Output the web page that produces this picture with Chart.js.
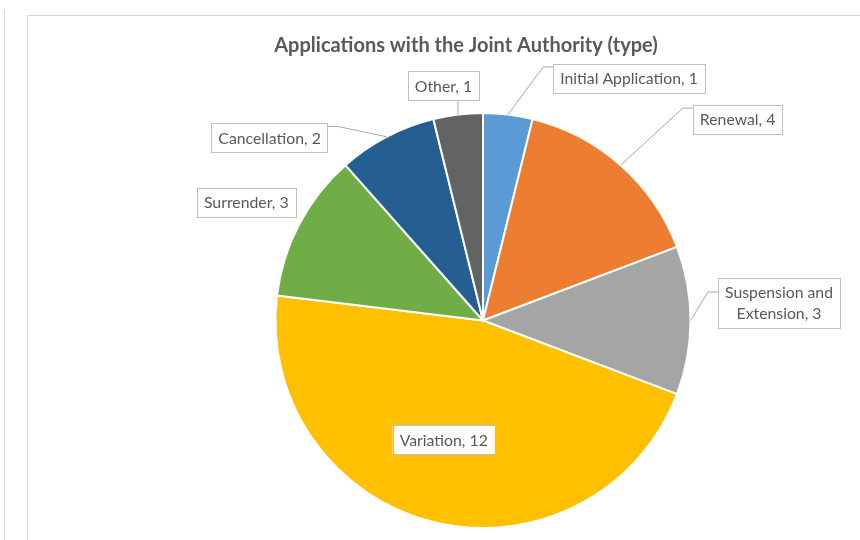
<!DOCTYPE html>
<html>
<head>
<meta charset="utf-8">
<script src="https://cdn.jsdelivr.net/npm/chart.js@4.4.1/dist/chart.umd.min.js"></script>
<style>
  html, body { margin: 0; padding: 0; background: #fff; overflow: hidden; }
  .sideLine { position: absolute; left: 4px; top: 10px; height: 600px; border-left: 1px solid #d9d9d9; }
  .frame { position: absolute; left: 27px; top: 15px; width: 1000px; height: 1000px; border: 1px solid #d9d9d9; }
  #myChart { position: absolute; left: 0; top: 0; }
</style>
</head>
<body>
<div class="sideLine"></div>
<div class="frame"></div>
<canvas id="myChart" width="860" height="540"></canvas>
<script>
// data
const categories = ['Initial Application', 'Renewal', 'Suspension and Extension', 'Variation', 'Surrender', 'Cancellation', 'Other'];
const counts = [1, 4, 3, 12, 3, 2, 1];
const chartTitle = 'Applications with the Joint Authority (type)';

// label callout placement, relative to the middle of each slice's outer edge
const labelPlacement = [
    { dx: 121, dy: -36.5, stub: 0.12 },
    { dx: 117, dy: -46, stub: 0.12 },
    { dx: 88.5, dy: -18, stub: 0.29, maxW: 130 },
    { dx: 10.4, dy: -82.5, leader: false },
    { dx: -53, dy: -22, leader: false },
    { dx: -117, dy: 0.7, stub: 0.12 },
    { dx: -14.5, dy: -29, vertical: true }
];

const labelFont = '15.8px Lato';
const textColor = '#595959';

function wrapText(ctx, text, maxW) {
    if (!maxW || ctx.measureText(text).width <= maxW) return [text];
    const words = text.split(' ');
    const lines = [];
    let cur = '';
    words.forEach(w => {
        const t = cur ? cur + ' ' + w : w;
        if (cur && ctx.measureText(t).width > maxW) {
            lines.push(cur);
            cur = w;
        } else {
            cur = t;
        }
    });
    if (cur) lines.push(cur);
    return lines;
}

const titlePlugin = {
    id: 'excelTitle',
    afterDraw(chart) {
        const { ctx } = chart;
        ctx.save();
        ctx.font = 'bold 20px Lato';
        ctx.fillStyle = textColor;
        ctx.textAlign = 'center';
        ctx.textBaseline = 'middle';
        ctx.fillText(chartTitle, 466, 46);
        ctx.restore();
    }
};

const calloutPlugin = {
    id: 'callouts',
    afterDatasetsDraw(chart) {
        const { ctx } = chart;
        const meta = chart.getDatasetMeta(0);
        ctx.save();
        ctx.font = labelFont;
        meta.data.forEach((arc, i) => {
            const p = labelPlacement[i];
            const { x, y, startAngle, endAngle, outerRadius } = arc.getProps(['x', 'y', 'startAngle', 'endAngle', 'outerRadius'], true);
            const mid = (startAngle + endAngle) / 2;
            const ax = x + Math.cos(mid) * outerRadius;
            const ay = y + Math.sin(mid) * outerRadius;
            const cx = ax + p.dx;
            const cy = ay + p.dy;

            const text = chart.data.labels[i] + ', ' + chart.data.datasets[0].data[i];
            const lines = wrapText(ctx, text, p.maxW);
            const lineH = 21;
            const w = Math.max(...lines.map(l => ctx.measureText(l).width)) + 14;
            const h = lines.length * lineH + 8;
            const left = cx - w / 2, top = cy - h / 2;

            // leader line
            if (p.leader !== false) {
                ctx.strokeStyle = '#a6a6a6';
                ctx.lineWidth = 1;
                ctx.beginPath();
                if (p.vertical) {
                    ctx.moveTo(ax, ay);
                    ctx.lineTo(ax, top + h);
                } else {
                    const sy = top + h * p.stub;
                    const edgeX = p.dx > 0 ? left : left + w;
                    const elbowX = p.dx > 0 ? edgeX - 10 : edgeX + 10;
                    ctx.moveTo(ax, ay);
                    ctx.lineTo(elbowX, sy);
                    ctx.lineTo(edgeX, sy);
                }
                ctx.stroke();
            }

            // box
            ctx.fillStyle = '#ffffff';
            ctx.fillRect(left, top, w, h);
            ctx.strokeStyle = '#bfbfbf';
            ctx.lineWidth = 1;
            ctx.strokeRect(Math.round(left) + 0.5, Math.round(top) + 0.5, Math.round(w), Math.round(h));

            // text
            ctx.fillStyle = textColor;
            ctx.textAlign = 'center';
            ctx.textBaseline = 'middle';
            lines.forEach((l, k) => {
                ctx.fillText(l, cx, top + 4 + lineH * k + lineH / 2 + 1);
            });
        });
        ctx.restore();
    }
};

const chartData = {
    labels: categories,
    datasets: [{
        data: counts,
        backgroundColor: ['#5b9bd5', '#ed7d31', '#a5a5a5', '#ffc000', '#70ad47', '#255e91', '#636363'],
        borderColor: '#ffffff',
        borderWidth: 2,
        radius: 207.5
    }]
};

const config = {
    type: 'pie',
    data: chartData,
    options: {
        responsive: false,
        devicePixelRatio: 1,
        animation: false,
        layout: {
            padding: { top: 113, bottom: 12, left: 275, right: 169 }
        },
        plugins: {
            legend: { display: false },
            title: { display: false },
            tooltip: { enabled: false }
        }
    },
    plugins: [calloutPlugin, titlePlugin]
};

const myChart = new Chart(document.getElementById('myChart'), config);
</script>
</body>
</html>
